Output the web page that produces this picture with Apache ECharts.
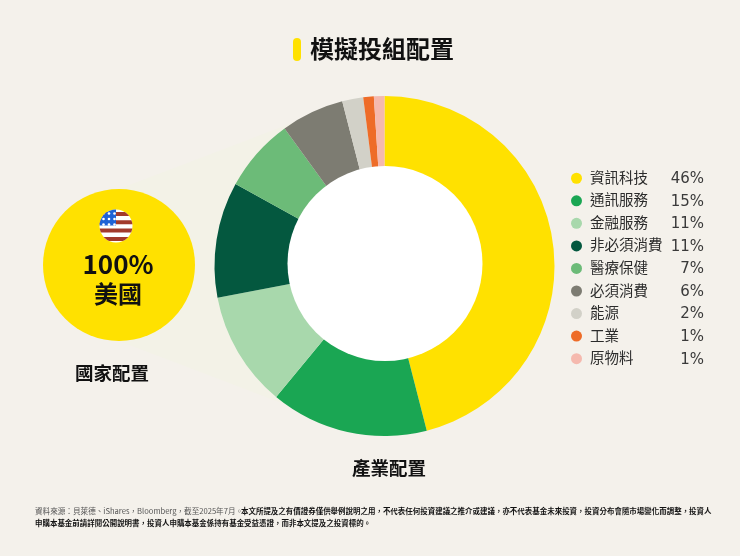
<!DOCTYPE html>
<html>
<head>
<meta charset="utf-8">
<title>模擬投組配置</title>
<style>
html, body { margin: 0; padding: 0; background: #f4f1eb; }
#main { width: 740px; height: 556px; }
</style>
<script src="https://cdn.jsdelivr.net/npm/echarts@6/dist/echarts.min.js"></script>
</head>
<body>
<div id="main"></div>
<script>
var sectors = ['資訊科技', '通訊服務', '金融服務', '非必須消費', '醫療保健', '必須消費', '能源', '工業', '原物料'];
var weights = [46, 15, 11, 11, 7, 6, 2, 1, 1];
var colors = ['#ffe100', '#1aa653', '#a8d8ac', '#04583f', '#6cbb78', '#7d7c72', '#d2d1c8', '#ee6c28', '#f5b9ae'];
var countryName = '美國';
var countryWeight = 100;

var font = '"Noto Sans CJK TC", "Noto Sans", sans-serif';
var ink = '#111111';

var myChart = echarts.init(document.getElementById('main'));

var sectorData = [];
for (var i = 0; i < sectors.length; i++) {
    sectorData.push({ name: sectors[i], value: weights[i], itemStyle: { color: colors[i] } });
}

function label(x, y, text, size, weight, color) {
    return {
        type: 'text', x: x, y: y, z: 20,
        style: { text: text, font: (weight || 400) + ' ' + size + 'px ' + font, fill: color || ink, textAlign: 'left', textVerticalAlign: 'middle' }
    };
}

// 美國國旗
var flagStripes = [];
for (var s = 0; s < 4; s++) {
    flagStripes.push({
        type: 'rect', z: 21,
        shape: { x: 99, y: 212 + s * 8.3, width: 34, height: 4 },
        style: { fill: '#a23a2c' }
    });
}
var flagDots = [];
for (var r = 0; r < 3; r++) {
    for (var c = 0; c < 3; c++) {
        flagDots.push({
            type: 'circle', z: 23,
            shape: { cx: 103.5 + c * 5.5, cy: 213.5 + r * 5.5, r: 1.3 },
            style: { fill: '#ffffff' }
        });
    }
}

var option = {
    backgroundColor: '#f4f1eb',
    animation: false,
    legend: {
        orient: 'vertical',
        left: 566,
        top: 165,
        itemWidth: 11,
        itemHeight: 11,
        itemGap: 5.8,
        icon: 'circle',
        selectedMode: false,
        data: sectors,
        formatter: function (name) {
            return '{s|}{n|' + name + '}{v|' + weights[sectors.indexOf(name)] + '%}';
        },
        textStyle: {
            rich: {
                s: { width: 3, height: 18 },
                n: { width: 76, fontFamily: font, fontSize: 14.5, color: '#2b2b2b', height: 18, padding: [0, 0, 2, 0] },
                v: { width: 38, align: 'right', fontFamily: '"DejaVu Sans", sans-serif', fontSize: 15, color: '#3a3a3a', height: 18, padding: [2, 0, 0, 0] }
            }
        }
    },
    series: [
        {
            type: 'pie',
            name: '產業配置',
            center: [384.5, 266],
            radius: [90, 170],
            startAngle: 90,
            clockwise: true,
            silent: true,
            label: { show: false },
            labelLine: { show: false },
            data: sectorData
        },
        {
            type: 'pie',
            name: '國家配置',
            center: [119, 265],
            radius: [0, 76],
            silent: true,
            z: 3,
            label: {
                show: true,
                position: 'center',
                formatter: '{a|{c}%}\n{b|{b}}',
                rich: {
                    a: { fontFamily: font, fontSize: 26, fontWeight: 700, color: ink, lineHeight: 30 },
                    b: { fontFamily: font, fontSize: 24, fontWeight: 700, color: ink, lineHeight: 30 }
                },
                offset: [-1, 14]
            },
            labelLine: { show: false },
            itemStyle: { color: '#ffe100' },
            data: [{ name: countryName, value: countryWeight }]
        }
    ],
    graphic: [
        {
            // 國家圓到甜甜圈的淡色連接
            type: 'polygon', z: -1, silent: true,
            shape: { points: [[119, 189], [300, 120], [300, 410], [119, 341]] },
            style: { fill: '#f3f2e7' }
        },
        {
            // 甜甜圈中央
            type: 'circle', z: 10, silent: true,
            shape: { cx: 385, cy: 263.5, r: 97.5 },
            style: { fill: '#ffffff' }
        },
        {
            type: 'rect', z: 20,
            shape: { x: 293, y: 38, width: 8, height: 23, r: 4 },
            style: { fill: '#ffe100' }
        },
        label(310, 49, '模擬投組配置', 24, 700),
        label(75, 373, '國家配置', 18.5, 700),
        label(352, 468, '產業配置', 18.5, 700),
        {
            type: 'group',
            clipPath: { type: 'circle', shape: { cx: 116, cy: 226, r: 16.5 } },
            children: [
                { type: 'rect', z: 20, shape: { x: 99, y: 209, width: 34, height: 34 }, style: { fill: '#ffffff' } }
            ].concat(flagStripes, [
                { type: 'rect', z: 22, shape: { x: 99, y: 209, width: 17, height: 16.5 }, style: { fill: '#1f63d6' } }
            ], flagDots)
        },
        label(35, 511, '資料來源：貝萊德、iShares，Bloomberg，截至2025年7月。', 7.6, 400, '#555555'),
        label(241, 511, '本文所提及之有價證券僅供舉例說明之用，不代表任何投資建議之推介或建議，亦不代表基金未來投資，投資分布會隨市場變化而調整，投資人', 7.47, 700),
        label(35, 523, '申購本基金前請詳閱公開說明書，投資人申購本基金係持有基金受益憑證，而非本文提及之投資標的。', 7.47, 700)
    ]
};

myChart.setOption(option);
</script>
</body>
</html>
